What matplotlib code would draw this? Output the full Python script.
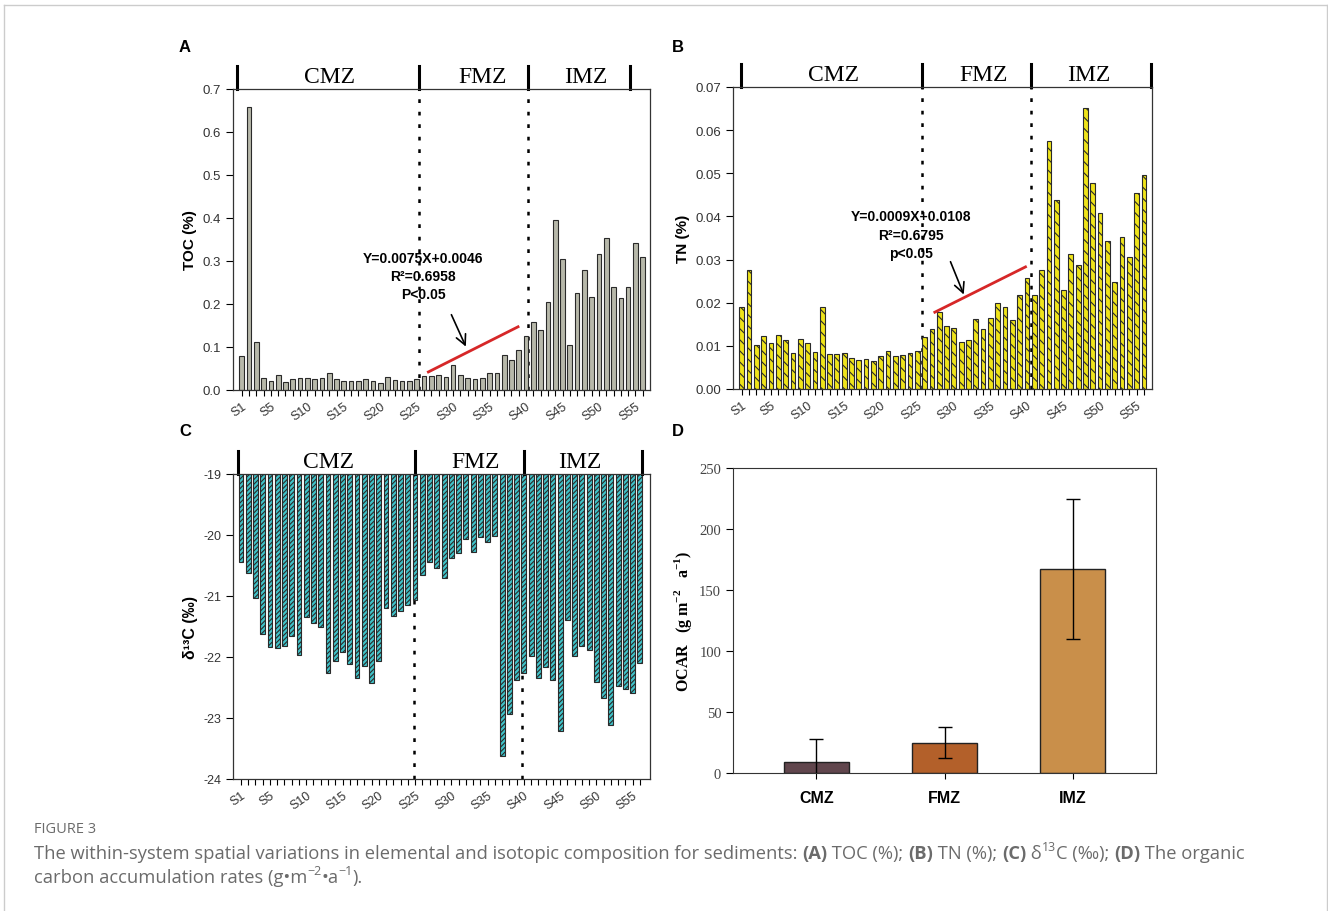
import numpy as np
import matplotlib
matplotlib.use('Agg')
import matplotlib.pyplot as plt
import matplotlib.transforms as mtransforms
from matplotlib.lines import Line2D

plt.rcParams['font.family'] = ['Liberation Sans', 'DejaVu Sans']
plt.rcParams['axes.unicode_minus'] = False
plt.rcParams['hatch.linewidth'] = 0.8
plt.rcParams['mathtext.fontset'] = 'custom'
plt.rcParams['mathtext.rm'] = 'Liberation Serif'
plt.rcParams['mathtext.bf'] = 'Liberation Serif:bold'

# ---- data ----
sites = [f'S{i}' for i in range(1, 57)]
toc = [0.080, 0.657, 0.111, 0.028, 0.020, 0.036, 0.018, 0.026, 0.029, 0.027,
       0.025, 0.028, 0.040, 0.026, 0.021, 0.021, 0.022, 0.026, 0.021, 0.017,
       0.030, 0.024, 0.021, 0.021, 0.026, 0.033, 0.032, 0.035, 0.030, 0.058,
       0.034, 0.029, 0.025, 0.027, 0.039, 0.040, 0.081, 0.070, 0.094, 0.126,
       0.157, 0.140, 0.204, 0.395, 0.305, 0.105, 0.225, 0.280, 0.217, 0.317,
       0.353, 0.240, 0.214, 0.240, 0.342, 0.310]
tn = [0.0189, 0.0275, 0.0102, 0.0124, 0.0107, 0.0125, 0.0114, 0.0083, 0.0116, 0.0106,
      0.0085, 0.0189, 0.0080, 0.0080, 0.0084, 0.0072, 0.0068, 0.0070, 0.0066, 0.0077,
      0.0087, 0.0077, 0.0079, 0.0084, 0.0089, 0.0120, 0.0138, 0.0178, 0.0145, 0.0142,
      0.0110, 0.0114, 0.0162, 0.0139, 0.0164, 0.0199, 0.0189, 0.0161, 0.0218, 0.0257,
      0.0217, 0.0275, 0.0575, 0.0437, 0.0230, 0.0314, 0.0287, 0.0652, 0.0478, 0.0408,
      0.0342, 0.0249, 0.0353, 0.0305, 0.0455, 0.0497]
d13c = [-20.44, -20.62, -21.04, -21.62, -21.84, -21.85, -21.82, -21.66, -21.96, -21.35,
        -21.44, -21.51, -22.27, -22.07, -21.92, -22.12, -22.35, -22.14, -22.42, -22.07,
        -21.19, -21.32, -21.24, -21.14, -21.06, -20.65, -20.45, -20.54, -20.70, -20.37,
        -20.30, -20.07, -20.28, -20.04, -20.11, -20.02, -23.63, -22.93, -22.37, -22.26,
        -21.99, -22.35, -22.17, -22.38, -23.22, -21.40, -21.99, -21.82, -21.88, -22.41,
        -22.67, -23.12, -22.48, -22.52, -22.59, -22.10]
zones = ['CMZ', 'FMZ', 'IMZ']
ocar = [9, 25, 167]
ocar_err = [19, 12.5, 57.5]

# regression lines over the FMZ stretch (endpoints)
trend_a_x, trend_a_y = [26.6, 38.9], [0.042, 0.147]
trend_b_x, trend_b_y = [27.4, 39.8], [0.0178, 0.0283]

W, H = 1328, 912
fig = plt.figure(figsize=(W / 100, H / 100), dpi=100)


def px_axes(l, t, r, b):
    return fig.add_axes([l / W, 1 - b / H, (r - l) / W, (b - t) / H])


x = np.arange(1, 57)


def site_panel(ax, xlim, seps, dashes, label_x):
    ax.set_xlim(*xlim)
    ax.set_xticks([1] + list(range(5, 56, 5)))
    ax.set_xticklabels([sites[0]] + [sites[i - 1] for i in range(5, 56, 5)],
                       rotation=35, ha='right', rotation_mode='anchor', fontsize=9, color='#333')
    ax.set_xticks(x, minor=True)
    ax.tick_params(axis='x', which='both', direction='out', length=4, width=0.8, pad=3)
    ax.tick_params(axis='y', direction='out', length=5, width=0.8, labelsize=9.5, labelcolor='#333')
    for s in ax.spines.values():
        s.set_color('#333')
        s.set_linewidth(0.9)
    tr = mtransforms.blended_transform_factory(ax.transData, ax.transAxes)
    for sx in seps:
        ax.add_line(Line2D([sx, sx], [1.0, 1.075], transform=tr, color='black', lw=2.2, clip_on=False))
    for dx in dashes:
        ax.axvline(dx, color='black', lw=1.8, ls=(0, (1.5, 3.5)), zorder=1)
    for z, lx in zip(zones, label_x):
        ax.text(lx, 1.008, z, transform=tr, ha='center', va='bottom', fontsize=17,
                family=['Liberation Serif', 'DejaVu Serif'])


# ---- A: TOC ----
axA = px_axes(233, 90, 650, 391)
axA.bar(x, toc, width=0.64, color='#b7b8aa', edgecolor='#2a2a2a', lw=0.8, zorder=2)
axA.set_ylim(0, 0.7)
axA.set_yticks(np.arange(0, 0.71, 0.1))
axA.set_yticklabels([f'{v:.1f}' for v in np.arange(0, 0.71, 0.1)])
site_panel(axA, (-0.2, 57.0), [0.3, 25.3, 40.3, 54.3], [25.3, 40.3], [13.1, 34.0, 48.2])
axA.set_ylabel('TOC (%)', fontsize=11, fontweight='bold', labelpad=4)
axA.plot(trend_a_x, trend_a_y, color='#d62728', lw=2, zorder=3)
axA.text(25.9, 0.265, 'Y=0.0075X+0.0046\nR²=0.6958\nP<0.05', ha='center', va='center',
         fontsize=10, fontweight='bold', linespacing=1.4, zorder=4)
axA.annotate('', xy=(31.9, 0.095), xytext=(29.6, 0.181),
             arrowprops=dict(arrowstyle='->', lw=1.2, color='black', mutation_scale=18))

# ---- B: TN ----
axB = px_axes(733, 88, 1152, 390)
axB.bar(x, tn, width=0.65, color='#efe41a', edgecolor='#2a2a2a', lw=0.8, hatch='\\\\\\', zorder=2)
axB.set_ylim(0, 0.07)
axB.set_yticks(np.arange(0, 0.071, 0.01))
axB.set_yticklabels([f'{v:.2f}' for v in np.arange(0, 0.071, 0.01)])
site_panel(axB, (-0.2, 57.1), [0.9, 25.6, 40.6, 56.9], [25.6, 40.6], [13.5, 34.0, 48.4])
axB.set_ylabel('TN (%)', fontsize=11, fontweight='bold', labelpad=4)
axB.plot(trend_b_x, trend_b_y, color='#d62728', lw=2, zorder=3)
axB.text(24.2, 0.0358, 'Y=0.0009X+0.0108\nR²=0.6795\np<0.05', ha='center', va='center',
         fontsize=10, fontweight='bold', linespacing=1.4, zorder=4)
axB.annotate('', xy=(31.5, 0.0213), xytext=(29.4, 0.0301),
             arrowprops=dict(arrowstyle='->', lw=1.2, color='black', mutation_scale=18))

# ---- C: d13C ----
axC = px_axes(233, 475, 650, 780)
axC.bar(x, np.array(d13c) + 19, bottom=-19, width=0.68, color='#3fc2c8', edgecolor='#2a2a2a',
        lw=0.8, hatch='///////', zorder=2)
axC.set_ylim(-24, -19)
axC.set_yticks(range(-24, -18))
site_panel(axC, (-0.1, 57.4), [0.55, 25.0, 40.0, 56.3], [24.8, 39.7], [13.0, 33.4, 47.7])
axC.tick_params(axis='y', labelsize=9)
axC.set_ylabel('δ¹³C (‰)', fontsize=11.5, fontweight='bold', labelpad=4)

# ---- D: OCAR ----
axD = px_axes(733, 469, 1156, 774)
xd = np.arange(len(zones))
axD.bar(xd, ocar, width=0.51, color=['#61464d', '#b3602a', '#c98f4a'], edgecolor='#222', lw=1, zorder=2)
axD.errorbar(xd, ocar, yerr=ocar_err, fmt='none', ecolor='black', elinewidth=1, capsize=5,
             capthick=1, zorder=3)
axD.set_xlim(-0.65, 2.65)
axD.set_ylim(0, 250)
axD.set_yticks(range(0, 251, 50))
axD.set_xticks(xd)
axD.set_xticklabels(zones, fontsize=11.5, fontweight='bold')
for lab in axD.get_yticklabels():
    lab.set_family(['Liberation Serif', 'DejaVu Serif'])
axD.tick_params(axis='y', direction='out', length=5, labelsize=10.5, labelcolor='#444')
axD.tick_params(axis='x', direction='out', length=4, pad=8)
for s in axD.spines.values():
    s.set_color('#333')
axD.set_ylabel(r'OCAR   (g m$^{\mathbf{-2}}$   a$^{\mathbf{-1}}$)', fontsize=11.5, fontweight='bold',
               family=['Liberation Serif', 'DejaVu Serif'], labelpad=4)

# panel letters
for lab, (lx, ly) in zip('ABCD', [(185, 48), (678, 48), (185, 432), (678, 432)]):
    fig.text(lx / W, 1 - ly / H, lab, fontsize=12, fontweight='bold', ha='center', va='center')

# ---- caption ----
cap_color = '#6b6b6b'
cap_family = ['Open Sans', 'DejaVu Sans']
renderer = fig.canvas.get_renderer()


def text_width(s, size, weight):
    def w(t):
        tt = fig.text(0, 0, t, fontsize=size, fontweight=weight, family=cap_family)
        bb = tt.get_window_extent(renderer)
        tt.remove()
        return bb.width
    return w('|' + s + '|') - w('||')


def rich(x0, ybase, parts, size):
    xx = x0
    for s, kind in parts:
        fs = size * 0.68 if kind == 'sup' else size
        wt = 'bold' if kind == 'b' else 'normal'
        dy = 0.45 * size * 100 / 72 if kind == 'sup' else 0
        fig.text(xx / W, 1 - (ybase - dy) / H, s, fontsize=fs, fontweight=wt, color=cap_color,
                 family=cap_family, va='baseline')
        xx += text_width(s, fs, wt)
    return xx


line1 = [('The within-system spatial variations in elemental and isotopic composition for sediments: ', 'n'),
         ('(A)', 'b'), (' TOC (%); ', 'n'), ('(B)', 'b'), (' TN (%); ', 'n'), ('(C)', 'b'),
         (' δ', 'n'), ('13', 'sup'), ('C (‰); ', 'n'), ('(D)', 'b'), (' The organic', 'n')]
line2 = [('carbon accumulation rates (g•m', 'n'), ('−2', 'sup'), ('•a', 'n'), ('−1', 'sup'), (').', 'n')]

base = 12
w1 = sum(text_width(s, base * (0.68 if k == 'sup' else 1), 'bold' if k == 'b' else 'normal')
         for s, k in line1)
cap_size = base * 1205 / w1
fig.text(34 / W, 1 - 833 / H, 'FIGURE 3', fontsize=cap_size * 0.8, color=cap_color,
         family=cap_family, va='baseline')
rich(34, 859, line1, cap_size)
rich(34, 883, line2, cap_size)

# light frame around the figure
for xs, ys in [([4, 4], [6, 912]), ([4, 1327], [6, 6]), ([1327, 1327], [6, 912])]:
    fig.add_artist(Line2D([v / W for v in xs], [1 - v / H for v in ys], transform=fig.transFigure,
                          color='#cccccc', lw=1))

fig.savefig('out.png', dpi=100)
